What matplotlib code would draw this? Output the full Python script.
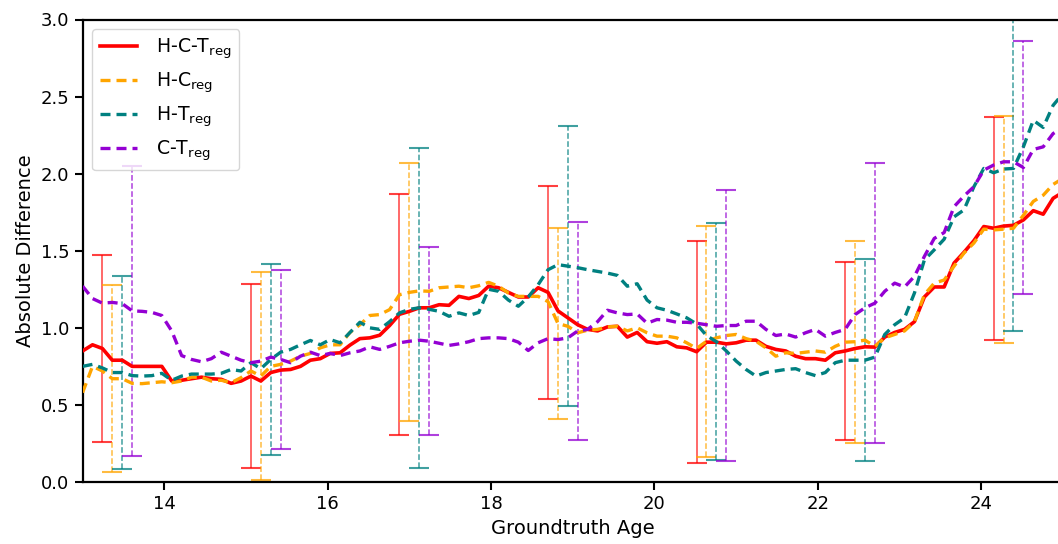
import numpy as np
import matplotlib
matplotlib.use("Agg")
import matplotlib.pyplot as plt

plt.rcParams['mathtext.default'] = 'regular'

# groundtruth age grid
age = np.linspace(13, 25, 100)

hct = [0.85, 0.89, 0.866, 0.79, 0.79, 0.75, 0.75, 0.75, 0.75, 0.655,
       0.66, 0.67, 0.68, 0.67, 0.666, 0.64, 0.655, 0.687, 0.655, 0.71,
       0.726, 0.73, 0.75, 0.79, 0.80, 0.834, 0.838, 0.888, 0.93, 0.935,
       0.952, 1.015, 1.088, 1.107, 1.13, 1.13, 1.15, 1.146, 1.204, 1.19,
       1.21, 1.27, 1.26, 1.23, 1.20, 1.20, 1.26, 1.23, 1.11, 1.065,
       1.02, 0.99, 0.98, 1.006, 1.01, 0.94, 0.97, 0.91, 0.90, 0.91,
       0.877, 0.87, 0.845, 0.907, 0.907, 0.896, 0.903, 0.92, 0.92, 0.88,
       0.86, 0.85, 0.816, 0.80, 0.80, 0.79, 0.838, 0.85, 0.866, 0.877,
       0.875, 0.94, 0.97, 0.99, 1.04, 1.20, 1.265, 1.265, 1.42, 1.49,
       1.565, 1.657, 1.646, 1.66, 1.665, 1.70, 1.76, 1.737, 1.84, 1.88]

hc = [0.58, 0.75, 0.72, 0.67, 0.67, 0.64, 0.638, 0.644, 0.65, 0.644,
      0.655, 0.68, 0.68, 0.655, 0.66, 0.644, 0.677, 0.72, 0.687, 0.75,
      0.763, 0.784, 0.816, 0.834, 0.87, 0.89, 0.89, 0.97, 1.02, 1.08,
      1.086, 1.118, 1.215, 1.23, 1.24, 1.237, 1.26, 1.265, 1.27, 1.26,
      1.273, 1.295, 1.27, 1.226, 1.204, 1.204, 1.204, 1.17, 1.028, 1.01,
      0.968, 0.985, 0.99, 1.006, 1.01, 0.98, 1.0, 0.968, 0.946, 0.946,
      0.935, 0.903, 0.866, 0.913, 0.935, 0.95, 0.957, 0.93, 0.913, 0.87,
      0.816, 0.838, 0.834, 0.842, 0.85, 0.842, 0.88, 0.907, 0.91, 0.92,
      0.88, 0.935, 0.957, 0.98, 1.04, 1.215, 1.29, 1.31, 1.40, 1.485,
      1.55, 1.64, 1.635, 1.64, 1.646, 1.73, 1.82, 1.86, 1.93, 1.97]

ht = [0.75, 0.763, 0.74, 0.71, 0.71, 0.69, 0.687, 0.69, 0.705, 0.66,
      0.687, 0.70, 0.70, 0.70, 0.705, 0.73, 0.72, 0.774, 0.735, 0.795,
      0.842, 0.86, 0.89, 0.918, 0.89, 0.924, 0.903, 0.97, 1.036, 1.0,
      0.99, 1.04, 1.097, 1.12, 1.13, 1.12, 1.107, 1.075, 1.097, 1.08,
      1.10, 1.25, 1.237, 1.18, 1.14, 1.20, 1.28, 1.377, 1.41, 1.40,
      1.39, 1.377, 1.366, 1.355, 1.34, 1.27, 1.286, 1.18, 1.13, 1.114,
      1.09, 1.065, 1.025, 0.95, 0.91, 0.85, 0.784, 0.73, 0.687, 0.71,
      0.72, 0.73, 0.735, 0.71, 0.69, 0.71, 0.774, 0.79, 0.79, 0.79,
      0.81, 0.957, 1.02, 1.065, 1.226, 1.44, 1.506, 1.575, 1.72, 1.765,
      1.915, 2.034, 2.006, 2.03, 2.034, 2.174, 2.346, 2.30, 2.443, 2.52]

ct = [1.27, 1.19, 1.16, 1.165, 1.157, 1.11, 1.107, 1.10, 1.08, 0.98,
      0.82, 0.795, 0.78, 0.80, 0.842, 0.816, 0.79, 0.774, 0.784, 0.81,
      0.795, 0.774, 0.816, 0.842, 0.82, 0.834, 0.82, 0.838, 0.85, 0.877,
      0.86, 0.88, 0.903, 0.913, 0.92, 0.913, 0.90, 0.886, 0.896, 0.91,
      0.93, 0.935, 0.935, 0.93, 0.907, 0.853, 0.903, 0.93, 0.924, 0.935,
      0.98, 0.99, 1.04, 1.114, 1.097, 1.086, 1.09, 1.03, 1.054, 1.05,
      1.036, 1.036, 1.03, 1.02, 1.01, 1.015, 1.015, 1.043, 1.043, 0.99,
      0.95, 0.96, 0.94, 0.968, 0.99, 0.946, 0.97, 0.99, 1.086, 1.13,
      1.16, 1.237, 1.29, 1.265, 1.334, 1.463, 1.58, 1.618, 1.786, 1.855,
      1.915, 2.023, 2.056, 2.077, 2.077, 2.04, 2.157, 2.174, 2.26, 2.30]

# std shown as error bars every 15 samples
hct_std = [0.607, 0.598, 0.78, 0.689, 0.72, 0.575, 0.722]
hc_std = [0.606, 0.677, 0.837, 0.618, 0.749, 0.655, 0.737]
ht_std = [0.628, 0.617, 1.037, 0.91, 0.77, 0.656, 1.056]
ct_std = [0.94, 0.578, 0.61, 0.707, 0.877, 0.908, 0.818]

labels = ["H-C-T$_{reg}$", "H-C$_{reg}$", "H-T$_{reg}$", "C-T$_{reg}$"]
colors = ["red", "orange", "teal", "darkviolet"]
series = [hct, hc, ht, ct]
stds = [hct_std, hc_std, ht_std, ct_std]

fig = plt.figure(figsize=(10.58, 5.44), dpi=100)
ax = fig.add_axes([82.6/1058, 62/544, 980.4/1058, 462.5/544])

for k in range(4):
    y = np.array(series[k])
    if k == 0:
        ax.plot(age, y, color=colors[k], lw=2.6, label=labels[k], zorder=3)
    else:
        ax.plot(age, y, color=colors[k], lw=2.4, ls=(0, (3.0, 1.8)),
                label=labels[k], zorder=3)
    idx = np.arange(7)*15 + 2 + k
    eb = ax.errorbar(age[idx], y[idx], yerr=stds[k], fmt="none",
                     ecolor=colors[k], elinewidth=1.1, capsize=7.5,
                     capthick=1.5, alpha=0.75, zorder=2)
    if k > 0:
        eb[2][0].set_linestyle("--")

ax.set_xlim(13, 25)
ax.set_ylim(0, 3.0)
ax.set_xticks([14, 16, 18, 20, 22, 24])
ax.set_yticks([0.0, 0.5, 1.0, 1.5, 2.0, 2.5, 3.0])
ax.set_yticklabels(["0.0", "0.5", "1.0", "1.5", "2.0", "2.5", "3.0"])
ax.tick_params(labelsize=13, width=1.5, length=6)
for s in ax.spines.values():
    s.set_linewidth(1.6)
ax.set_xlabel("Groundtruth Age", fontsize=14)
ax.set_ylabel("Absolute Difference", fontsize=14)
ax.legend(loc="upper left", fontsize=13.6, bbox_to_anchor=(0.0, 1.0),
          borderaxespad=0.5, handletextpad=1.0, labelspacing=0.5)

plt.savefig("out.png", dpi=100)
plt.close()
